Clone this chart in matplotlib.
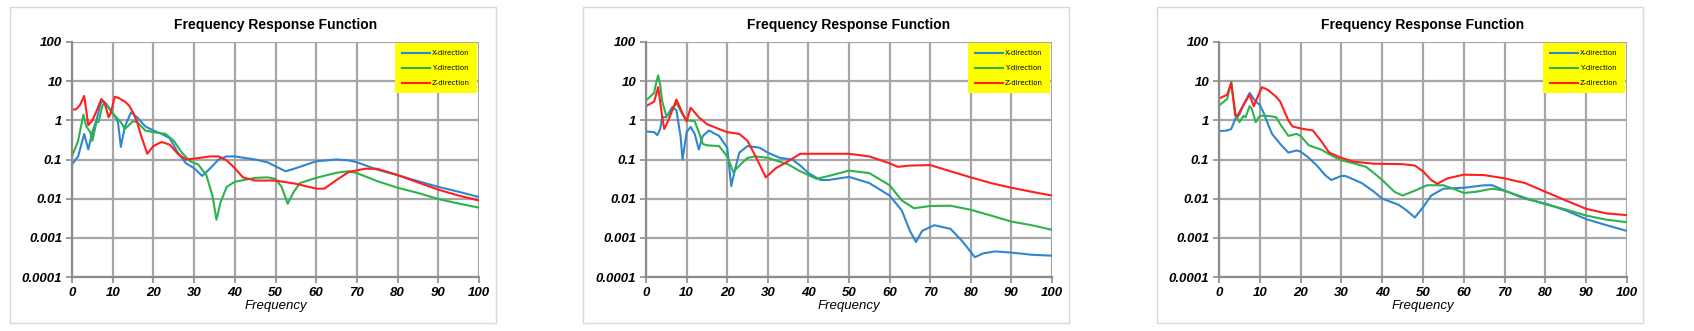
import matplotlib
matplotlib.use("Agg")
import matplotlib.pyplot as plt
from matplotlib.patches import Rectangle

# ---- panel 1 ----
p1_x_f = [0, 1.5, 3, 4, 5, 6, 7, 7.5, 8.5, 9.5, 10.5, 11.3, 12, 13, 14.5, 16, 18, 20, 22, 24, 26, 28, 30, 32, 34, 36,
          38, 40, 45, 48, 52.5, 55, 60, 65, 68, 70, 75, 80, 85, 90, 95, 100]
p1_x_v = [0.075, 0.12, 0.45, 0.18, 0.5, 1.0, 2.6, 3.2, 2.6, 1.8, 1.3, 0.9, 0.21, 0.7, 1.6, 1.2, 0.7, 0.55, 0.45, 0.35,
          0.15, 0.08, 0.06, 0.038, 0.06, 0.1, 0.12, 0.12, 0.1, 0.085, 0.05, 0.06, 0.09, 0.1, 0.095, 0.085, 0.055,
          0.04, 0.028, 0.02, 0.015, 0.011]
p1_y_f = [0, 1.5, 2.8, 3.5, 4.5, 5, 6, 6.5, 7.5, 8, 9, 10, 12, 13, 15, 16, 18, 20, 23, 25, 27, 29, 31, 33, 34.5, 35.5,
          36.5, 38, 40, 45, 48, 50, 51.5, 53, 54.5, 56, 60, 65, 68, 70, 75, 80, 85, 90, 95, 100]
p1_y_v = [0.12, 0.3, 1.4, 0.7, 0.5, 0.3, 0.9, 0.9, 2.4, 2.8, 2.1, 1.5, 0.9, 0.6, 0.95, 0.9, 0.55, 0.5, 0.45, 0.3, 0.15,
          0.09, 0.075, 0.04, 0.012, 0.0029, 0.008, 0.02, 0.027, 0.034, 0.035, 0.032, 0.02, 0.0074, 0.015, 0.025,
          0.034, 0.046, 0.05, 0.045, 0.028, 0.019, 0.014, 0.0098, 0.0075, 0.0059]
p1_z_f = [0, 1, 2, 3, 4, 5, 6, 7.2, 8, 9, 9.5, 10.5, 11.5, 13, 14, 15, 16, 17, 18.5, 20, 22, 24, 26, 28, 30, 34, 36,
          38, 40, 42, 45, 50, 55, 60, 62, 65, 68, 72, 75, 80, 85, 90, 95, 100]
p1_z_v = [1.9, 1.9, 2.5, 4.2, 0.75, 1.0, 1.7, 3.5, 2.8, 1.2, 1.5, 4.0, 3.7, 3.0, 2.4, 1.6, 0.9, 0.4, 0.14, 0.22, 0.28,
          0.24, 0.14, 0.1, 0.105, 0.12, 0.12, 0.095, 0.06, 0.035, 0.029, 0.029, 0.024, 0.018, 0.018, 0.03, 0.048,
          0.058, 0.058, 0.04, 0.026, 0.017, 0.012, 0.009]

# ---- panel 2 ----
p2_x_f = [0, 2, 2.8, 3.5, 4, 5, 6.5, 7.5, 8.5, 9, 10, 11, 12, 13, 14, 15.5, 18, 20, 21, 22, 23, 25, 28, 30, 33, 36,
          38, 40, 43, 45, 50, 55, 60, 63, 65, 66.5, 68, 71, 75, 78, 81, 83, 86, 90, 95, 100]
p2_x_v = [0.52, 0.5, 0.42, 0.6, 1.2, 1.2, 2.2, 1.8, 0.4, 0.1, 0.5, 0.68, 0.45, 0.18, 0.4, 0.55, 0.4, 0.2, 0.021,
          0.06, 0.15, 0.22, 0.2, 0.15, 0.11, 0.1, 0.07, 0.045, 0.03, 0.03, 0.036, 0.025, 0.012, 0.005, 0.0015,
          0.00078, 0.0015, 0.0021, 0.0017, 0.0008, 0.00032, 0.0004, 0.00045, 0.00042, 0.00037, 0.00035]
p2_y_f = [0, 2, 2.5, 3, 3.5, 4, 5, 6, 7.5, 9, 10, 12, 13, 14, 15, 18, 20, 21.5, 23, 25, 27, 30, 35, 38, 42, 45, 50,
          55, 60, 63, 66, 70, 75, 80, 85, 90, 95, 100]
p2_y_v = [3.2, 5, 9, 14, 8, 3, 1.3, 1.5, 2.8, 1.4, 1.0, 0.95, 0.5, 0.25, 0.23, 0.22, 0.12, 0.048, 0.07, 0.11, 0.12,
          0.11, 0.075, 0.05, 0.032, 0.038, 0.052, 0.045, 0.022, 0.009, 0.0057, 0.0065, 0.0066, 0.0052, 0.0037,
          0.0026, 0.0021, 0.0016]
p2_z_f = [0, 2, 3, 4, 4.5, 5.5, 7.5, 9, 10, 11, 13, 15, 18, 20, 23, 25, 27, 29.5, 32, 35, 38, 42, 50, 55, 60, 62, 65,
          70, 75, 80, 85, 90, 95, 100]
p2_z_v = [2.3, 3, 7, 1.2, 0.6, 1.0, 3.4, 1.5, 0.95, 2.1, 1.2, 0.8, 0.6, 0.5, 0.45, 0.3, 0.12, 0.035, 0.06, 0.09,
          0.14, 0.14, 0.14, 0.12, 0.08, 0.065, 0.07, 0.072, 0.05, 0.035, 0.025, 0.019, 0.015, 0.012]

# ---- panel 3 ----
p3_x_f = [0, 2, 3, 4, 5, 6, 7.5, 9, 10, 11, 12, 13, 15, 17, 19, 20, 22, 24, 26, 27.5, 30, 31, 35, 38, 40, 44, 46,
          48, 50, 52, 55, 60, 65, 67, 70, 75, 80, 85, 90, 95, 100]
p3_x_v = [0.53, 0.55, 0.6, 1.1, 1.4, 2.5, 5, 3, 2.5, 1.5, 0.8, 0.45, 0.25, 0.15, 0.17, 0.16, 0.11, 0.07, 0.04, 0.03,
          0.038, 0.038, 0.025, 0.015, 0.01, 0.007, 0.005, 0.0033, 0.006, 0.012, 0.018, 0.019, 0.022, 0.022, 0.016,
          0.01, 0.0075, 0.005, 0.003, 0.0021, 0.0015]
p3_y_f = [0, 2, 3, 4, 5, 6, 6.5, 7.5, 8, 9, 10, 12, 14, 15, 17, 19, 20, 22, 25, 28, 30, 33, 36, 38, 40, 43, 45, 48,
          51, 55, 58, 60, 63, 67, 70, 75, 80, 85, 90, 95, 100]
p3_y_v = [2.4, 3.5, 9.6, 1.5, 0.9, 1.3, 1.2, 2.3, 2, 0.9, 1.3, 1.3, 1.2, 0.8, 0.4, 0.45, 0.4, 0.23, 0.18, 0.12,
          0.095, 0.08, 0.065, 0.045, 0.03, 0.015, 0.012, 0.016, 0.022, 0.022, 0.017, 0.014, 0.015, 0.018, 0.016,
          0.0105, 0.0072, 0.0053, 0.0037, 0.0029, 0.0025]
p3_z_f = [0, 2, 3, 4, 4.5, 5.5, 7.5, 8.5, 9.5, 10.5, 12, 14, 15, 17, 18, 20, 23, 25, 27, 30, 33, 38, 45, 48, 50, 52,
          53.5, 56, 60, 65, 70, 75, 80, 85, 90, 95, 100]
p3_z_v = [3.6, 4.5, 9, 1.3, 1.3, 2, 4.5, 2.3, 4, 7, 6, 4, 3, 1, 0.7, 0.62, 0.55, 0.3, 0.15, 0.11, 0.088, 0.078,
          0.076, 0.07, 0.05, 0.03, 0.024, 0.033, 0.041, 0.04, 0.033, 0.025, 0.015, 0.009, 0.0055, 0.0042, 0.0038]

panels = [
    [(p1_x_f, p1_x_v), (p1_y_f, p1_y_v), (p1_z_f, p1_z_v)],
    [(p2_x_f, p2_x_v), (p2_y_f, p2_y_v), (p2_z_f, p2_z_v)],
    [(p3_x_f, p3_x_v), (p3_y_f, p3_y_v), (p3_z_f, p3_z_v)],
]
labels = ["X-direction", "Y-direction", "Z-direction"]
colors = ["#2f86d0", "#2db34a", "#ff1f1f"]
y_ticks = [0.0001, 0.001, 0.01, 0.1, 1, 10, 100]
y_labels = ["0.0001", "0.001", "0.01", "0.1", "1", "10", "100"]
x_ticks = list(range(0, 101, 10))

W, H = 1694, 331
fig = plt.figure(figsize=(W / 100, H / 100), dpi=100)

frames = [(10, 496), (583, 1069), (1157, 1643)]
axes_px = [(72, 479), (646, 1052), (1219, 1627)]

for (fl, fr), (al, ar), series in zip(frames, axes_px, panels):
    # chart area border
    fig.patches.append(Rectangle((fl / W, 1 - 323 / H), (fr - fl) / W, 316 / H,
                                 transform=fig.transFigure, fill=False,
                                 edgecolor="#d9d9d9", linewidth=1))
    ax = fig.add_axes([al / W, 1 - 277 / H, (ar - al) / W, 235 / H])
    for (f, v), lab, c in zip(series, labels, colors):
        ax.plot(f, v, color=c, linewidth=1.5, label=lab, solid_joinstyle="round")
    ax.set_yscale("log")
    ax.set_xlim(0, 100)
    ax.set_ylim(0.0001, 100)
    ax.set_yticks(y_ticks)
    ax.set_yticklabels(y_labels)
    ax.yaxis.set_minor_locator(matplotlib.ticker.NullLocator())
    ax.set_xticks(x_ticks)
    ax.grid(True, color="#a6a6a6", linewidth=1.6)
    ax.set_axisbelow(True)
    for s in ["top", "right"]:
        ax.spines[s].set_visible(False)
    for s in ["left", "bottom"]:
        ax.spines[s].set_color("#8c8c8c")
        ax.spines[s].set_linewidth(1.6)
    ax.tick_params(colors="#8c8c8c", length=4, width=1.2, pad=3)
    for t in ax.get_xticklabels() + ax.get_yticklabels():
        t.set_fontfamily("Liberation Sans")
        t.set_fontweight("bold")
        t.set_fontstyle("italic")
        t.set_fontsize(9.5)
        t.set_color("black")
    ax.set_xlabel("Frequency", fontsize=9.5, fontstyle="italic", fontfamily="Liberation Sans", labelpad=1)
    ax.set_title("Frequency Response Function", fontsize=10, fontweight="bold",
                 fontfamily="Liberation Sans", pad=9)
    leg = ax.legend(loc="upper right", bbox_to_anchor=(0.995, 0.995), borderaxespad=0,
                    fontsize=5, handlelength=4, frameon=True, fancybox=False,
                    labelspacing=1.3, borderpad=1.0, handletextpad=0.3)
    leg.get_frame().set_facecolor("#ffff00")
    leg.get_frame().set_edgecolor("none")
    leg.get_frame().set_alpha(1)

fig.savefig("out.png", dpi=100)
